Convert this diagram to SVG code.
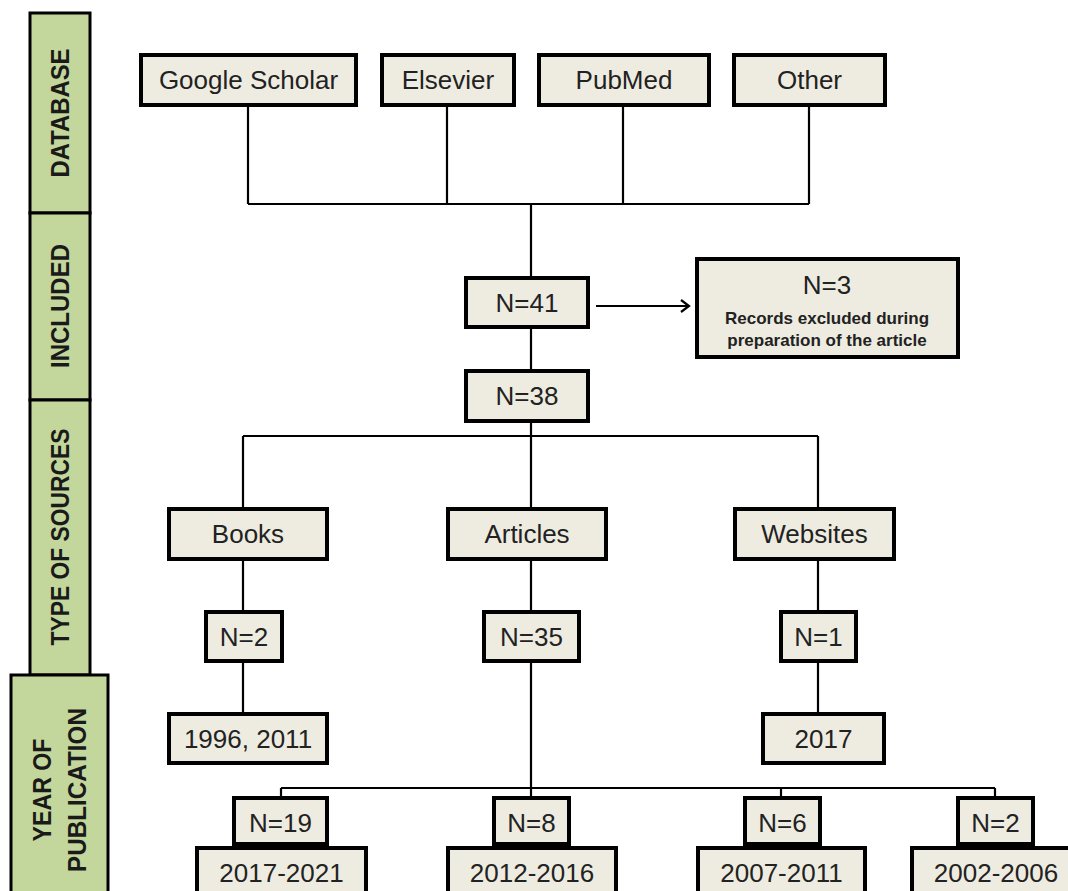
<svg xmlns="http://www.w3.org/2000/svg" width="1068" height="891" viewBox="0 0 1068 891">
<style>
.side{fill:#C3D69B;stroke:#000;stroke-width:3}
.st{font-family:"Liberation Sans",Arial,sans-serif;font-weight:bold;font-size:26px;fill:#1a1a1a;text-anchor:middle}
.box{fill:#EEECE1;stroke:#000;stroke-width:4}
.t{font-family:"Liberation Sans",Arial,sans-serif;font-size:26px;fill:#222;text-anchor:middle}
.tb{font-family:"Liberation Sans",Arial,sans-serif;font-size:17px;font-weight:bold;fill:#222;text-anchor:middle}
.c{fill:none;stroke:#000;stroke-width:2.2}
</style>
<defs>
<marker id="arr" markerUnits="userSpaceOnUse" markerWidth="14" markerHeight="16" refX="10" refY="7" orient="auto">
<path d="M2,1 L10,7 L2,13" fill="none" stroke="#000" stroke-width="2.2"/>
</marker>
</defs>
<rect width="1068" height="891" fill="#fff"/>
<g id="sidebar">
<g id="side-database"><rect class="side" x="30" y="13" width="60" height="200"/><text class="st" transform="translate(69,113) rotate(-90)" textLength="129" lengthAdjust="spacingAndGlyphs">DATABASE</text></g>
<g id="side-included"><rect class="side" x="30" y="213" width="60" height="187"/><text class="st" transform="translate(69,306) rotate(-90)" textLength="124" lengthAdjust="spacingAndGlyphs">INCLUDED</text></g>
<g id="side-type"><rect class="side" x="30" y="400" width="60" height="275"/><text class="st" transform="translate(69,537) rotate(-90)" textLength="217" lengthAdjust="spacingAndGlyphs">TYPE OF SOURCES</text></g>
<g id="side-year"><rect class="side" x="11" y="675" width="97" height="230"/><text class="st" transform="translate(51,790) rotate(-90)" textLength="103" lengthAdjust="spacingAndGlyphs">YEAR OF</text><text class="st" transform="translate(86,790) rotate(-90)" textLength="164" lengthAdjust="spacingAndGlyphs">PUBLICATION</text></g>
</g>
<g id="connectors">
<path class="c" d="M248,105V204M447,105V204M623,105V204M809,105V204M248,204H809M531,204V278"/>
<path class="c" d="M531,327V371M531,421V509M243,436H818M243,436V509M818,436V509"/>
<path class="c" d="M243,559V612M243,661V714M531,559V612M531,661V798M818,559V612M818,661V714"/>
<path class="c" d="M281,788H995M281,788V798M781,788V798M995,788V798"/>
<path class="c" d="M596,306H689" marker-end="url(#arr)"/>
</g>
<g id="gs"><rect class="box" x="141" y="55" width="215" height="50"/><text class="t" x="248.5" y="89">Google Scholar</text></g>
<g id="elsevier"><rect class="box" x="382" y="55" width="132" height="50"/><text class="t" x="448" y="89">Elsevier</text></g>
<g id="pubmed"><rect class="box" x="539" y="55" width="170" height="50"/><text class="t" x="624" y="89">PubMed</text></g>
<g id="other"><rect class="box" x="734" y="55" width="151" height="50"/><text class="t" x="809.5" y="89">Other</text></g>
<g id="n41"><rect class="box" x="466" y="278" width="122" height="49"/><text class="t" x="527" y="312">N=41</text></g>
<g id="n3"><rect class="box" x="697" y="259" width="261" height="98"/><text class="t" x="827" y="294">N=3</text><text class="tb" x="827" y="324">Records excluded during</text><text class="tb" x="827" y="346">preparation of the article</text></g>
<g id="n38"><rect class="box" x="466" y="371" width="122" height="50"/><text class="t" x="527" y="405">N=38</text></g>
<g id="books"><rect class="box" x="169" y="509" width="158" height="50"/><text class="t" x="248" y="543">Books</text></g>
<g id="articles"><rect class="box" x="448" y="509" width="158" height="50"/><text class="t" x="527" y="543">Articles</text></g>
<g id="websites"><rect class="box" x="735" y="509" width="159" height="50"/><text class="t" x="814.5" y="543">Websites</text></g>
<g id="n2"><rect class="box" x="206" y="612" width="76" height="49"/><text class="t" x="244" y="646">N=2</text></g>
<g id="n35"><rect class="box" x="484" y="612" width="95" height="49"/><text class="t" x="531.5" y="646">N=35</text></g>
<g id="n1"><rect class="box" x="781" y="612" width="75" height="49"/><text class="t" x="818.5" y="646">N=1</text></g>
<g id="y1996"><rect class="box" x="169" y="714" width="158" height="49"/><text class="t" x="248" y="748">1996, 2011</text></g>
<g id="y2017"><rect class="box" x="763" y="714" width="121" height="49"/><text class="t" x="823.5" y="748">2017</text></g>
<g id="n19"><rect class="box" x="234" y="798" width="93" height="46"/><text class="t" x="280.5" y="832">N=19</text></g>
<g id="n8"><rect class="box" x="494" y="798" width="75" height="46"/><text class="t" x="531.5" y="832">N=8</text></g>
<g id="n6"><rect class="box" x="745" y="798" width="75" height="46"/><text class="t" x="782.5" y="832">N=6</text></g>
<g id="n2b"><rect class="box" x="958" y="798" width="75" height="46"/><text class="t" x="995.5" y="832">N=2</text></g>
<g id="y1721"><rect class="box" x="197" y="848" width="169" height="60"/><text class="t" x="281.5" y="882">2017-2021</text></g>
<g id="y1216"><rect class="box" x="448" y="848" width="168" height="60"/><text class="t" x="532" y="882">2012-2016</text></g>
<g id="y0711"><rect class="box" x="698" y="848" width="167" height="60"/><text class="t" x="781.5" y="882">2007-2011</text></g>
<g id="y0206"><rect class="box" x="912" y="848" width="168" height="60"/><text class="t" x="996" y="882">2002-2006</text></g>
</svg>
